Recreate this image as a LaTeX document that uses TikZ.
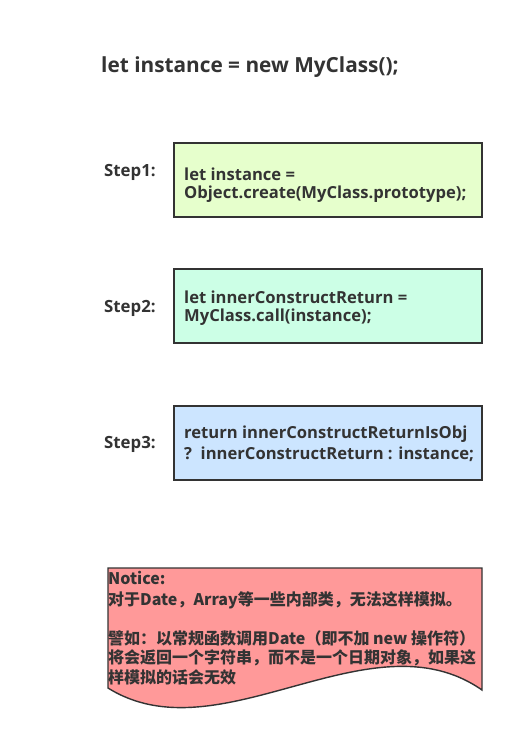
\documentclass[tikz,border=0pt]{standalone}
\usepackage{fontspec}
\setmainfont{Open Sans}
\newfontfamily\cjk{Noto Sans CJK SC}
\definecolor{txt}{HTML}{333333}
\definecolor{fillA}{HTML}{E6FFCC}
\definecolor{fillB}{HTML}{CCFFE6}
\definecolor{fillC}{HTML}{CCE5FF}
\definecolor{fillD}{HTML}{FF9999}
\begin{document}
\begin{tikzpicture}[x=1pt,y=-1pt,
  box/.style={draw=txt,line width=1.4pt},
  code/.style={anchor=west,inner sep=0pt,text=txt,font=\bfseries\fontsize{16.6}{19}\selectfont},
  steplabel/.style={anchor=west,inner sep=0pt,text=txt,font=\bfseries\fontsize{16.8}{19}\selectfont},
  note/.style={anchor=west,inner sep=0pt,text=txt,font=\cjk\bfseries\fontsize{16}{19}\selectfont}]
\useasboundingbox (0,0) rectangle (514,739);
\fill[white] (0,0) rectangle (514,739);
% title
\node[anchor=west,inner sep=0pt,text=txt,font=\bfseries\fontsize{20.8}{24}\selectfont] (title) at (101,67) {let instance = new MyClass();};
% boxes
\draw[box,fill=fillA] (174,143) rectangle (482,217);
\draw[box,fill=fillB] (174,269) rectangle (482,343);
\draw[box,fill=fillC] (174,406) rectangle (482,480);
\node[steplabel] (s1) at (104,172) {Step1:};
\node[steplabel] (s2) at (104,308) {Step2:};
\node[steplabel] (s3) at (104,444) {Step3:};
\node[code] (c1a) at (184,174) {let instance =};
\node[code] (c1b) at (184,194) {Object.create(MyClass.prototype);};
\node[code] (c2a) at (184,297) {let innerConstructReturn =};
\node[code] (c2b) at (184,317) {MyClass.call(instance);};
\node[code] (c3a) at (184,434) {return innerConstructReturnIsObj};
\node[code] (c3b) at (184,454) {?\ \ innerConstructReturn : instance;};
% notice document shape
\draw[box,fill=fillD] (108,568) -- (482,568) -- (482,690)
  .. controls (370,612) and (220,758) .. (108,688) -- cycle;
\node[note] (n1) at (108,578) {Notice:};
\node[note] (n2) at (108,600) {对于Date，Array等一些内部类，无法这样模拟。};
\node[note] (n3) at (108,638) {譬如：以常规函数调用Date（即不加 new 操作符）};
\node[note] (n4) at (108,658) {将会返回一个字符串，而不是一个日期对象，如果这};
\node[note] (n5) at (108,677) {样模拟的话会无效};
\end{tikzpicture}
\end{document}
